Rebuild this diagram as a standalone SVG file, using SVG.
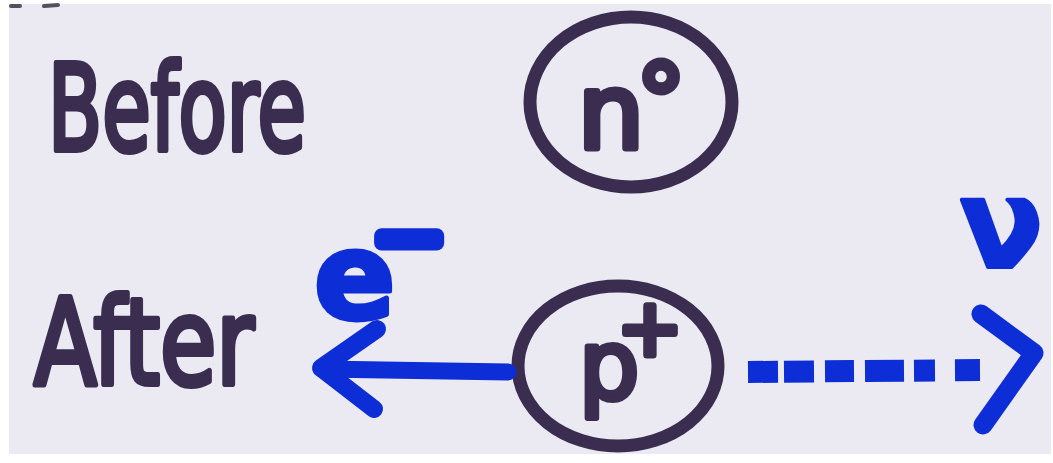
<svg xmlns="http://www.w3.org/2000/svg" width="1053" height="463" viewBox="0 0 1053 463">
  <style>
    .ink { fill: #3b2d50; stroke: #3b2d50; stroke-linejoin: round; stroke-linecap: round; font-family: "DejaVu Sans", "Liberation Sans", sans-serif; }
    .blue { fill: #0d2ed6; stroke: #0d2ed6; stroke-linejoin: round; stroke-linecap: round; font-family: "DejaVu Sans", "Liberation Sans", sans-serif; }
    .ring { fill: none; stroke: #3b2d50; stroke-width: 13; }
    .bline { fill: none; stroke: #0d2ed6; stroke-linecap: round; stroke-linejoin: round; }
    .bdash { fill: none; stroke: #0d2ed6; stroke-linecap: butt; stroke-width: 22; }
  </style>
  <rect x="0" y="0" width="1053" height="463" fill="#ffffff"/>
  <rect x="9" y="4" width="1042" height="450" fill="#ebeaf3"/>
  <path d="M11 6 L20 6 M44 6 L58 5" stroke="#2f2a38" stroke-width="4" stroke-linecap="round" opacity="0.8"/>

  <g id="label-before">
    <text class="ink" x="48" y="150" font-size="120" stroke-width="6" textLength="258" lengthAdjust="spacingAndGlyphs">Before</text>
  </g>
  <g id="label-after">
    <text class="ink" x="34" y="384" font-size="120" stroke-width="6" textLength="220" lengthAdjust="spacingAndGlyphs">After</text>
  </g>

  <g id="node-neutron">
    <ellipse class="ring" cx="631" cy="102" rx="101" ry="85"/>
    <text class="ink" x="578" y="148" font-size="104" stroke-width="7">n<tspan dx="-8" dy="-13" font-size="100">°</tspan></text>
  </g>

  <g id="node-proton">
    <ellipse class="ring" cx="618" cy="366" rx="100" ry="80"/>
    <text class="ink" x="579" y="398" font-size="95" stroke-width="6">p<tspan dx="-22" dy="-43" font-size="78" stroke-width="7">+</tspan></text>
  </g>

  <g id="label-electron">
    <text class="blue" x="314" y="318" font-size="120" font-weight="bold" stroke-width="5">e<tspan dx="-23" dy="-51" font-size="88" font-weight="normal" stroke-width="15">−</tspan></text>
  </g>

  <g id="label-neutrino">
    <text class="blue" x="960" y="267" font-size="122" font-weight="bold" stroke-width="4">ν</text>
  </g>

  <g id="connectors">
    <path class="bline" stroke-width="17" d="M508 372 L322 369"/>
    <path class="bline" stroke-width="18" d="M377 329 L321 368 L374 409"/>
    <path class="bdash" stroke-dasharray="30 6 30 11 29 11 39 10 21 20 25 999" d="M748 372 L990 370"/>
    <path class="bline" stroke-width="19" d="M981 314 L1034 353 L983 425"/>
  </g>
</svg>
